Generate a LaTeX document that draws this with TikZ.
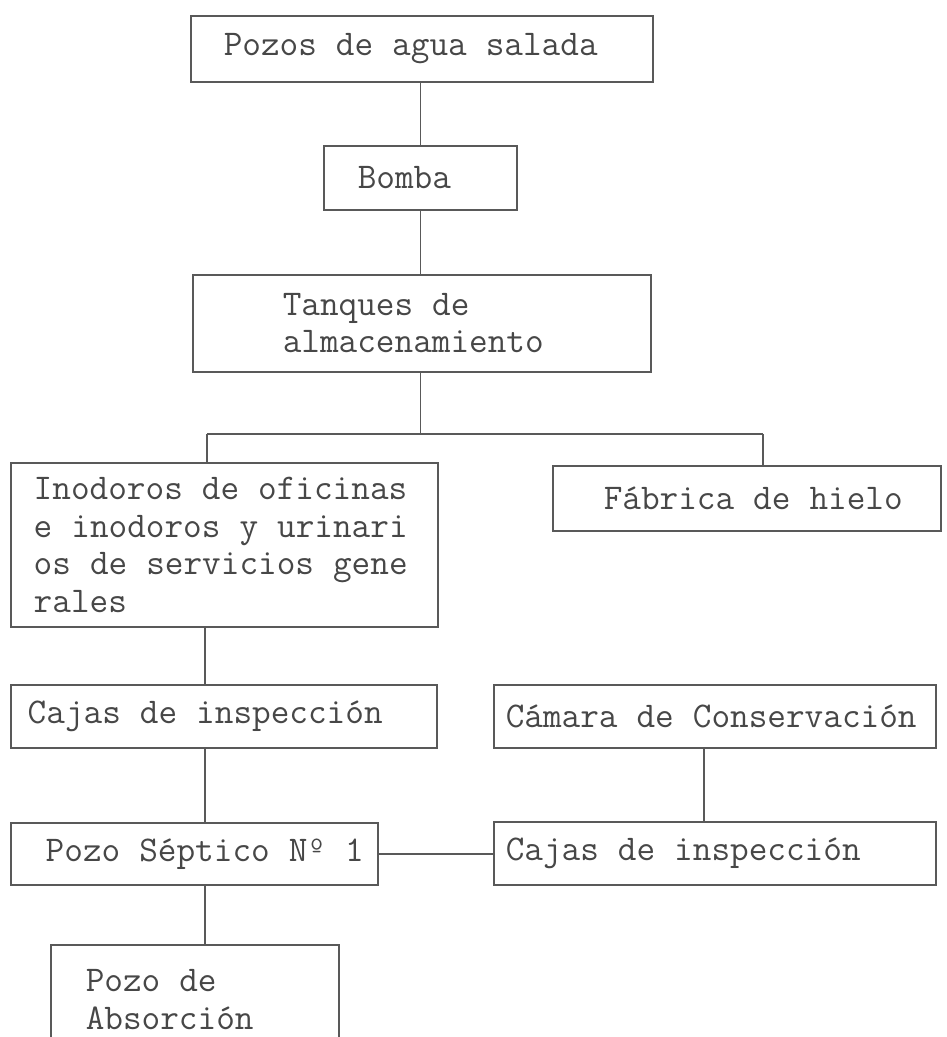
\documentclass[tikz,border=0pt]{standalone}
\usepackage{fontspec}
\tikzset{box/.style={draw=black!65, line width=1.5pt, rectangle, anchor=north west, align=left, inner xsep=0pt, inner ysep=0pt, text=black!72, font=\ttfamily\fontsize{36.2}{37.5}\selectfont}, indent/.style={execute at begin node={\leftskip=#1\relax\spaceskip=19pt\relax}}, pipe/.style={draw=black!65, line width=1.5pt}}

\begin{document}
\begin{tikzpicture}[x=1pt, y=-1pt]
    \useasboundingbox (0,0) rectangle (946,1037);

    \node [box, text width=462pt, minimum height=66pt, indent=33pt] (pozos) at (190,15) {Pozos de agua salada};
    \node [box, text width=193pt, minimum height=64pt, indent=34pt] (bomba) at (323,145) {Bomba};
    \node [box, text width=458pt, minimum height=97pt, indent=90pt] (tanques) at (192,274) {Tanques de\\almacenamiento};

    \node [box, text width=427pt, minimum height=164pt, indent=23pt] (inodoros) at (10,462) {Inodoros de oficinas\\e inodoros y urinari\\os de servicios gene\\rales};
    \node [box, text width=388pt, minimum height=65pt, indent=51pt] (fabrica) at (552,465) {Fábrica de hielo};

    \node [box, text width=426pt, minimum height=63pt, indent=17pt] (cajasA) at (10,684) {Cajas de inspección};
    \node [box, text width=442pt, minimum height=63pt, indent=12pt] (camara) at (493,684) {Cámara de Conservación};
    \node [box, text width=367pt, minimum height=62pt, indent=35pt] (septico) at (10,822) {Pozo Séptico Nº 1};
    \node [box, text width=442pt, minimum height=63pt, indent=12pt] (cajasB) at (493,821) {Cajas de inspección};
    \node [box, text width=288pt, minimum height=110pt, indent=35pt] (absorcion) at (50,944) {Pozo de\\Absorción};

    % vertical runs and the split under the tanks
    \coordinate (colA) at (205,0);
    \coordinate (colB) at (704,0);
    \coordinate (splitL) at (207,434);
    \coordinate (splitR) at (763,434);

    \draw [pipe] (bomba.north |- pozos.south) -- (bomba.north);
    \draw [pipe] (bomba.south) -- (bomba.south |- tanques.north);
    \draw [pipe] (bomba.south |- tanques.south) -- (bomba.south |- splitL);
    \draw [pipe] (splitL) -- (splitR);
    \draw [pipe] (splitL) -- (splitL |- inodoros.north);
    \draw [pipe] (splitR) -- (splitR |- fabrica.north);
    \foreach \a/\b in {inodoros/cajasA, cajasA/septico, septico/absorcion}
        \draw [pipe] (colA |- \a.south) -- (colA |- \b.north);
    \draw [pipe] (colB |- camara.south) -- (colB |- cajasB.north);
    \draw [pipe] (septico.east) -- (septico.east -| cajasB.west);
\end{tikzpicture}
\end{document}
